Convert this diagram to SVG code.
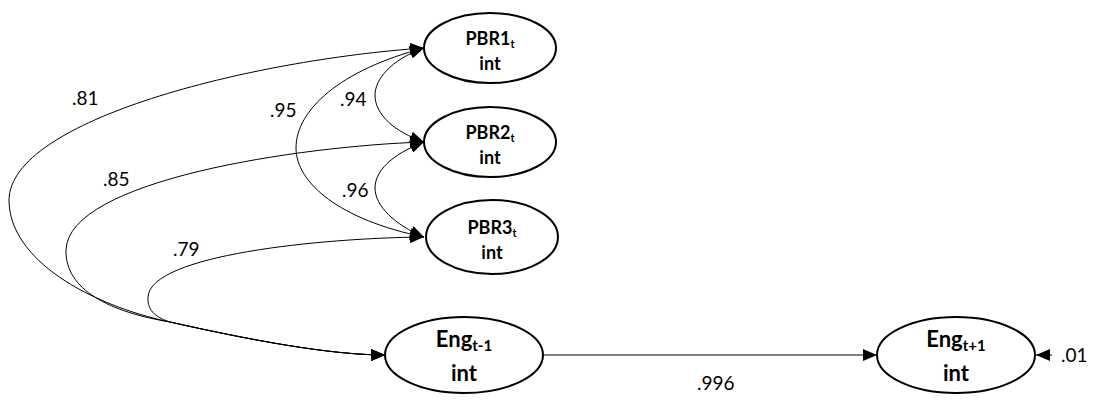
<svg xmlns="http://www.w3.org/2000/svg" width="1110" height="402" viewBox="0 0 1110 402">
<style>
.node{fill:#fff;stroke:#000;stroke-width:2}
.conn{fill:none;stroke:#000;stroke-width:1}
.nt{font-family:Lato,"Liberation Sans",sans-serif;font-weight:bold;fill:#000;text-anchor:middle}
.lbl{font-family:Lato,"Liberation Sans",sans-serif;font-size:19px;fill:#000}
</style>
<defs>
<marker id="ah" markerUnits="userSpaceOnUse" markerWidth="14" markerHeight="12" refX="14" refY="6" orient="auto-start-reverse">
<path d="M0,0 L14,6 L0,12 z" fill="#000"/>
</marker>
</defs>
<g id="connectors">
<path class="conn" marker-start="url(#ah)" marker-end="url(#ah)" d="M424 48 C250 60, 10 120, 9 200 C9 260, 90 305, 170 322 C250 340, 330 355, 385 355"/>
<path class="conn" marker-start="url(#ah)" marker-end="url(#ah)" d="M424 142 C300 146, 68 180, 66 250 C65 290, 110 312, 170 322 C250 340, 330 355, 385 355"/>
<path class="conn" marker-start="url(#ah)" marker-end="url(#ah)" d="M424 237 C320 238, 150 255, 148 297 C147 312, 158 318, 170 322 C250 340, 330 355, 385 355"/>
<path class="conn" marker-start="url(#ah)" marker-end="url(#ah)" d="M424 48 C390 60, 375 80, 375 95 C375 115, 395 132, 424 142"/>
<path class="conn" marker-start="url(#ah)" marker-end="url(#ah)" d="M424 142 C390 155, 375 172, 375 188 C375 206, 395 225, 424 237"/>
<path class="conn" marker-start="url(#ah)" marker-end="url(#ah)" d="M424 48 C340 70, 296 110, 296 148 C296 183, 340 220, 424 237"/>
<path class="conn" marker-end="url(#ah)" d="M543 355 L877 355"/>
<path class="conn" marker-end="url(#ah)" d="M1052 355 L1036 355"/>
<text class="lbl" x="72" y="105">.81</text>
<text class="lbl" x="103" y="186">.85</text>
<text class="lbl" x="173" y="256">.79</text>
<text class="lbl" x="270" y="117">.95</text>
<text class="lbl" x="340" y="106">.94</text>
<text class="lbl" x="342" y="197">.96</text>
<text class="lbl" x="697" y="390">.996</text>
<text class="lbl" x="1061" y="362">.01</text>
</g>
<g id="PBR1">
<ellipse class="node" cx="490" cy="48" rx="66" ry="35"/>
<text class="nt" x="490" y="45" font-size="18">PBR1<tspan font-size="11" dy="3">t</tspan></text>
<text class="nt" x="490" y="70" font-size="18">int</text>
</g>
<g id="PBR2">
<ellipse class="node" cx="490" cy="142" rx="66" ry="35"/>
<text class="nt" x="490" y="139" font-size="18">PBR2<tspan font-size="11" dy="3">t</tspan></text>
<text class="nt" x="490" y="164" font-size="18">int</text>
</g>
<g id="PBR3">
<ellipse class="node" cx="492" cy="237" rx="66" ry="37"/>
<text class="nt" x="492" y="234" font-size="18">PBR3<tspan font-size="11" dy="3">t</tspan></text>
<text class="nt" x="492" y="259" font-size="18">int</text>
</g>
<g id="EngPrev">
<ellipse class="node" cx="464" cy="355" rx="79" ry="38"/>
<text class="nt" x="464" y="347" font-size="22">Eng<tspan font-size="15" dy="4">t-1</tspan></text>
<text class="nt" x="464" y="381" font-size="22">int</text>
</g>
<g id="EngNext">
<ellipse class="node" cx="956" cy="355" rx="79" ry="38"/>
<text class="nt" x="956" y="347" font-size="22">Eng<tspan font-size="15" dy="4">t+1</tspan></text>
<text class="nt" x="956" y="381" font-size="22">int</text>
</g>
</svg>
